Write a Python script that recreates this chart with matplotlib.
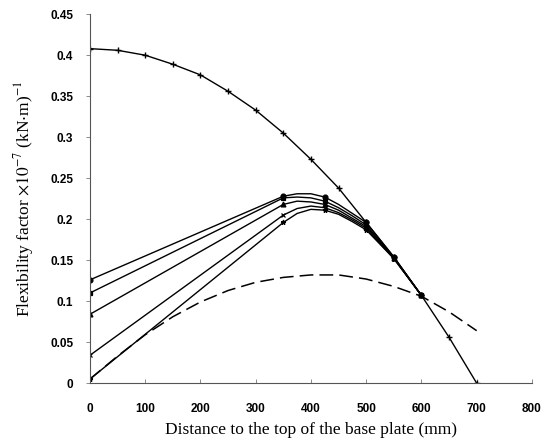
import matplotlib.pyplot as plt

# distances along the column (mm)
x_top = [0, 50, 100, 150, 200, 250, 300, 350, 400, 450, 500, 550, 600, 650, 700]
y_top = [0.408, 0.406, 0.400, 0.389, 0.376, 0.356, 0.333, 0.305, 0.273, 0.238,
         0.196, 0.154, 0.107, 0.056, 0.0]

x_dash = [0, 50, 100, 150, 200, 250, 300, 350, 400, 450, 500, 550, 600, 650, 700]
y_dash = [0.005, 0.033, 0.059, 0.081, 0.099, 0.113, 0.123, 0.129, 0.132, 0.132,
          0.127, 0.118, 0.106, 0.087, 0.064]

# solid curves (markers at 0, 350, 425, 500, 550, 600)
x_sol = [0, 350, 375, 400, 425, 450, 475, 500, 550, 600]
y_sol1 = [0.126, 0.228, 0.231, 0.231, 0.227, 0.218, 0.207, 0.196, 0.154, 0.107]
y_sol2 = [0.110, 0.226, 0.227, 0.226, 0.222, 0.214, 0.204, 0.193, 0.153, 0.107]
y_sol3 = [0.084, 0.218, 0.222, 0.221, 0.218, 0.211, 0.201, 0.191, 0.153, 0.107]
y_sol4 = [0.034, 0.205, 0.213, 0.216, 0.214, 0.208, 0.199, 0.189, 0.152, 0.107]
y_sol5 = [0.005, 0.196, 0.207, 0.212, 0.211, 0.206, 0.197, 0.187, 0.152, 0.107]
mark_idx = [0, 1, 4, 7, 8, 9]

plt.rcParams['mathtext.fontset'] = 'stix'

fig = plt.figure(figsize=(5.45, 4.44), dpi=100)
ax = fig.add_axes([0.165, 0.137, 0.811, 0.831])

ax.plot(x_top, y_top, color='black', lw=1.0, marker='+', ms=4, mew=1.0)
ax.plot(x_dash, y_dash, color='black', lw=1.1, dashes=(9, 4))

for ys, m in zip([y_sol1, y_sol2, y_sol3, y_sol4, y_sol5], ['o', 's', '^', 'x', '*']):
    ax.plot(x_sol, ys, color='black', lw=1.0, marker=m, ms=3.5,
            markevery=mark_idx, mfc='black', mew=0.9)

ax.set_xlim(0, 800)
ax.set_ylim(0, 0.45)
ax.set_xticks(range(0, 801, 100))
ax.set_yticks([0, 0.05, 0.1, 0.15, 0.2, 0.25, 0.3, 0.35, 0.4, 0.45])
ax.set_yticklabels(['0', '0.05', '0.1', '0.15', '0.2', '0.25', '0.3', '0.35', '0.4', '0.45'])

for s in ['top', 'right']:
    ax.spines[s].set_visible(False)
for s in ['left', 'bottom']:
    ax.spines[s].set_color('#555555')
    ax.spines[s].set_linewidth(0.8)

ax.tick_params(axis='both', colors='#777777', length=3, width=0.6,
               labelcolor='black', labelsize=8.5)
ax.tick_params(axis='x', direction='in', pad=14)
ax.tick_params(axis='y', pad=9)
for lbl in ax.get_xticklabels() + ax.get_yticklabels():
    lbl.set_fontfamily('Liberation Sans')
    lbl.set_fontweight('bold')

ax.set_xlabel('Distance to the top of the base plate (mm)',
              fontfamily='Liberation Serif', fontsize=12.5, labelpad=5)
ax.set_ylabel(r'Flexibility factor $\times10^{-7}$ (kN$\cdot$m)$^{-1}$',
              fontfamily='Liberation Serif', fontsize=12.5, labelpad=10)

fig.savefig('out.png', dpi=100)
